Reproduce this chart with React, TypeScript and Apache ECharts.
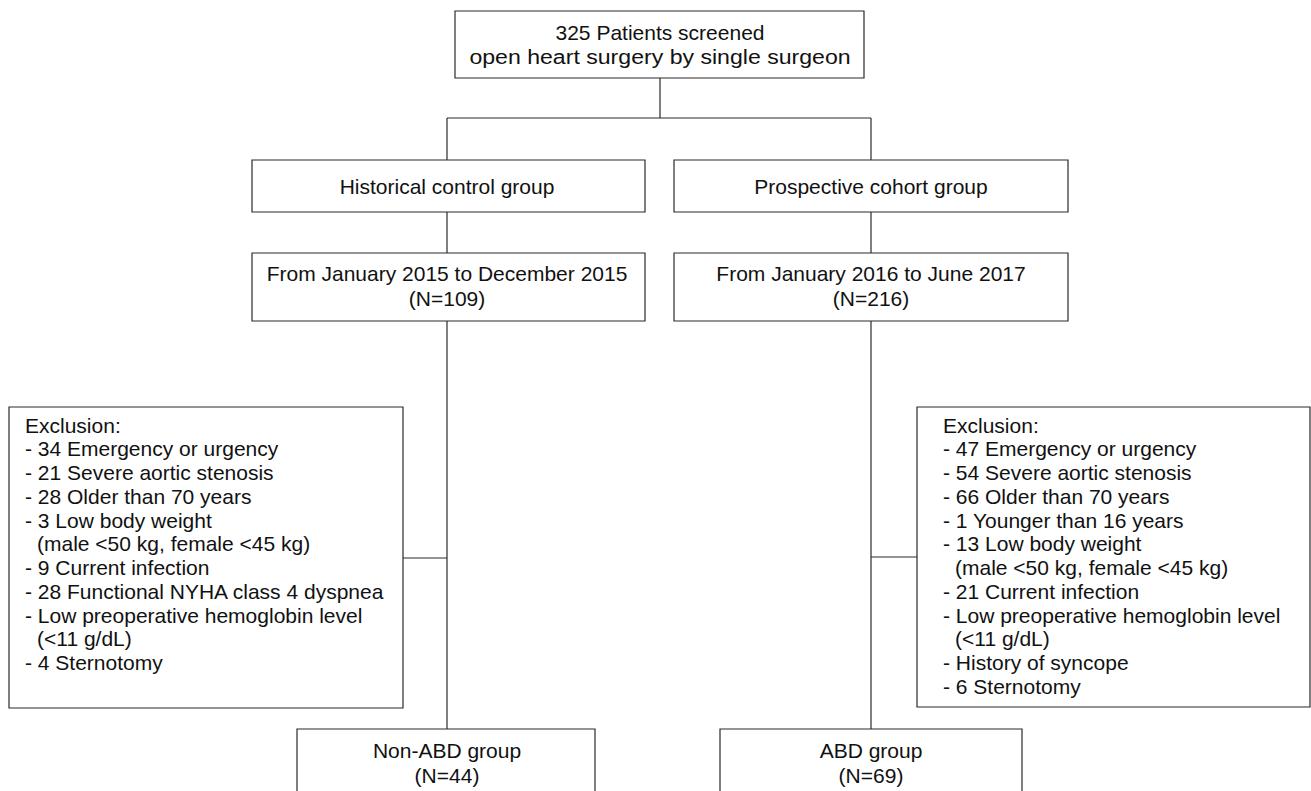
import React, { useEffect, useRef } from "react";
import * as echarts from "echarts";

// ---- Data (texts of the flow chart) ----
const topBoxLines = ["325 Patients screened", "open heart surgery by single surgeon"];
const groupNames = ["Historical control group", "Prospective cohort group"];
const periodLines = [
  ["From January 2015 to December 2015", "(N=109)"],
  ["From January 2016 to June 2017", "(N=216)"],
];
const exclusionLeft = [
  "Exclusion:",
  "- 34 Emergency or urgency",
  "- 21 Severe aortic stenosis",
  "- 28 Older than 70 years",
  "- 3 Low body weight",
  "(male <50 kg, female <45 kg)",
  "- 9 Current infection",
  "- 28 Functional NYHA class 4 dyspnea",
  "- Low preoperative hemoglobin level",
  "(<11 g/dL)",
  "- 4 Sternotomy",
];
const exclusionRight = [
  "Exclusion:",
  "- 47 Emergency or urgency",
  "- 54 Severe aortic stenosis",
  "- 66 Older than 70 years",
  "- 1 Younger than 16 years",
  "- 13 Low body weight",
  "(male <50 kg, female <45 kg)",
  "- 21 Current infection",
  "- Low preoperative hemoglobin level",
  "(<11 g/dL)",
  "- History of syncope",
  "- 6 Sternotomy",
];
const finalGroups = [
  ["Non-ABD group", "(N=44)"],
  ["ABD group", "(N=69)"],
];

// ---- Layout ----
const FONT = "'Liberation Sans', Arial, Helvetica, sans-serif";
const STROKE = "#2a2a2a";
const TEXT = "#111";
const LW = 1.2;

function box(x: number, y: number, w: number, h: number) {
  return {
    type: "rect",
    shape: { x, y, width: w, height: h },
    style: { fill: "#fff", stroke: STROKE, lineWidth: LW },
  };
}
function seg(x1: number, y1: number, x2: number, y2: number) {
  return {
    type: "line",
    shape: { x1, y1, x2, y2 },
    style: { stroke: STROKE, lineWidth: LW },
  };
}
function ctext(text: string, x: number, y: number, size = 21, sx = 1) {
  return {
    type: "text",
    x,
    y,
    scaleX: sx,
    style: {
      text,
      fontFamily: FONT,
      fontSize: size,
      fill: TEXT,
      textAlign: "center",
      verticalAlign: "middle",
    },
  };
}
function ltext(text: string, x: number, y: number, size = 21) {
  return {
    type: "text",
    x,
    y,
    style: {
      text,
      fontFamily: FONT,
      fontSize: size,
      fill: TEXT,
      textAlign: "left",
      verticalAlign: "middle",
    },
  };
}

export default function App() {
  const ref = useRef<HTMLDivElement>(null);
  useEffect(() => {
    if (!ref.current) return;
    const chart = echarts.init(ref.current, undefined, { renderer: "svg" });
    const g: any[] = [];

    const cxL = 447;
    const cxR = 871;
    const cxTop = 660;

    // connectors (drawn first, boxes on top)
    g.push(seg(cxTop, 78, cxTop, 118));
    g.push(seg(cxL, 118, cxR, 118));
    g.push(seg(cxL, 118, cxL, 160));
    g.push(seg(cxR, 118, cxR, 160));
    g.push(seg(cxL, 212, cxL, 253));
    g.push(seg(cxR, 212, cxR, 253));
    g.push(seg(cxL, 321, cxL, 729));
    g.push(seg(cxR, 321, cxR, 729));
    g.push(seg(403, 558, cxL, 558));
    g.push(seg(cxR, 557, 917, 557));

    // top box
    g.push(box(455, 11, 409, 67));
    topBoxLines.forEach((t, i) => g.push(ctext(t, cxTop, 32 + i * 25, 21, i === 1 ? 1.1 : 1)));

    // group boxes
    const boxXs = [
      [252, 393],
      [674, 394],
    ];
    const cxs = [cxL, cxR];
    groupNames.forEach((t, i) => {
      g.push(box(boxXs[i][0], 160, boxXs[i][1], 52));
      g.push(ctext(t, cxs[i], 186));
    });
    periodLines.forEach((lines, i) => {
      g.push(box(boxXs[i][0], 253, boxXs[i][1], 68));
      lines.forEach((t, j) => g.push(ctext(t, cxs[i], 273 + j * 25)));
    });

    // exclusion boxes
    g.push(box(9, 407, 394, 301));
    exclusionLeft.forEach((t, i) => {
      const indent = t.startsWith("(") ? 12 : 0;
      g.push(ltext(t, 25 + indent, 425 + i * 23.75));
    });
    g.push(box(917, 407, 393, 300));
    exclusionRight.forEach((t, i) => {
      const indent = t.startsWith("(") ? 12 : 0;
      g.push(ltext(t, 943 + indent, 425 + i * 23.75));
    });

    // final boxes
    const finX = [
      [297, 298],
      [720, 302],
    ];
    finalGroups.forEach((lines, i) => {
      g.push(box(finX[i][0], 729, finX[i][1], 90));
      lines.forEach((t, j) => g.push(ctext(t, cxs[i], 750 + j * 25)));
    });

    chart.setOption({
      animation: false,
      backgroundColor: "#fff",
      graphic: { elements: g },
    });
    return () => chart.dispose();
  }, []);

  return (
    <div
      ref={ref}
      style={{ position: "fixed", left: 0, top: 0, width: 1311, height: 791, background: "#fff" }}
    />
  );
}
